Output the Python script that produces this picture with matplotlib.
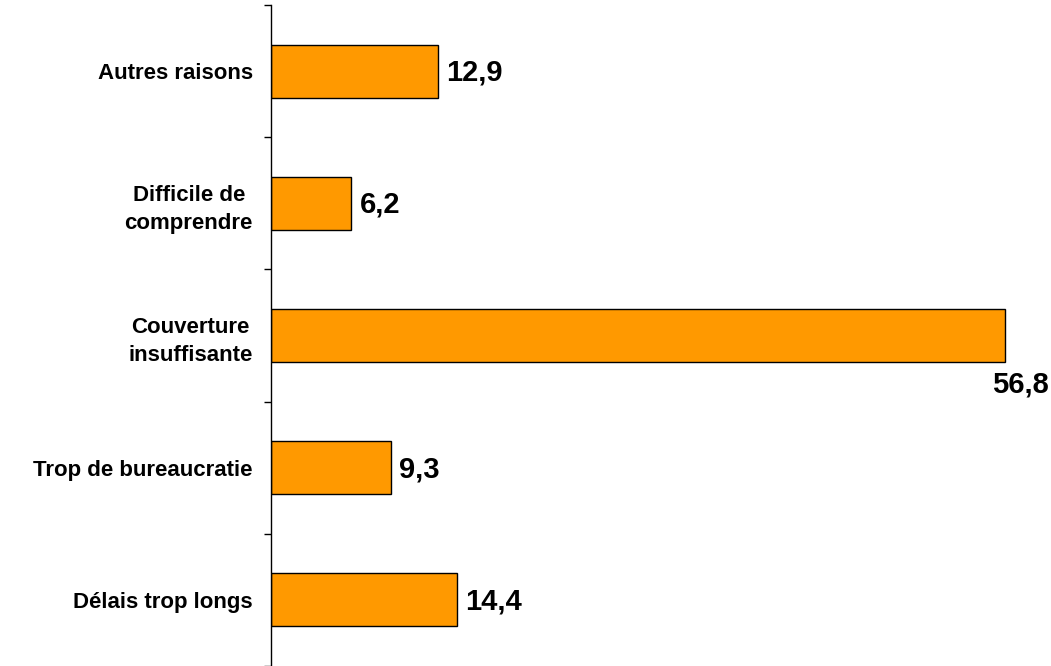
import matplotlib
matplotlib.use("Agg")
import matplotlib.pyplot as plt

# data, bottom to top
categories = ["Délais trop longs", "Trop de bureaucratie",
              "Couverture\ninsuffisante", "Difficile de\ncomprendre",
              "Autres raisons"]
values = [14.4, 9.3, 56.8, 6.2, 12.9]
value_labels = ["14,4", "9,3", "56,8", "6,2", "12,9"]

plt.rcParams['font.family'] = ['Liberation Sans', 'DejaVu Sans']

fig = plt.figure(figsize=(10.51, 6.66), dpi=100)
ax = fig.add_axes([271 / 1051, 0.0, 780 / 1051, 661 / 666])

pos = list(range(len(values)))
ax.barh(pos, values, height=0.4, color="#FF9900", edgecolor="black", linewidth=1)

ax.set_xlim(0, 60.4)
ax.set_ylim(-0.5, len(values) - 0.5)

for sp in ["top", "right", "bottom"]:
    ax.spines[sp].set_visible(False)
ax.spines["left"].set_linewidth(1)
ax.set_xticks([])

# category labels at centres, tick marks at boundaries
ax.set_yticks(pos)
ax.set_yticklabels(categories, fontsize=16, fontweight="bold")
ax.tick_params(axis="y", which="major", length=0, pad=13)
ax.set_yticks([p - 0.5 for p in pos] + [len(pos) - 0.5], minor=True)
ax.tick_params(axis="y", which="minor", length=5, width=1, direction="out")
for t in ax.get_yticklabels():
    t.set_multialignment("center")
    t.set_linespacing(1.45)

# value labels
for p, v, lab in zip(pos, values, value_labels):
    if v > 50:
        ax.annotate(lab, (v, p - 0.2), xytext=(-9, -6), textcoords="offset points",
                    ha="left", va="top", fontsize=21, fontweight="bold")
    else:
        ax.annotate(lab, (v, p), xytext=(6, -1), textcoords="offset points",
                    ha="left", va="center", fontsize=21, fontweight="bold")

fig.savefig("out.png", dpi=100)
